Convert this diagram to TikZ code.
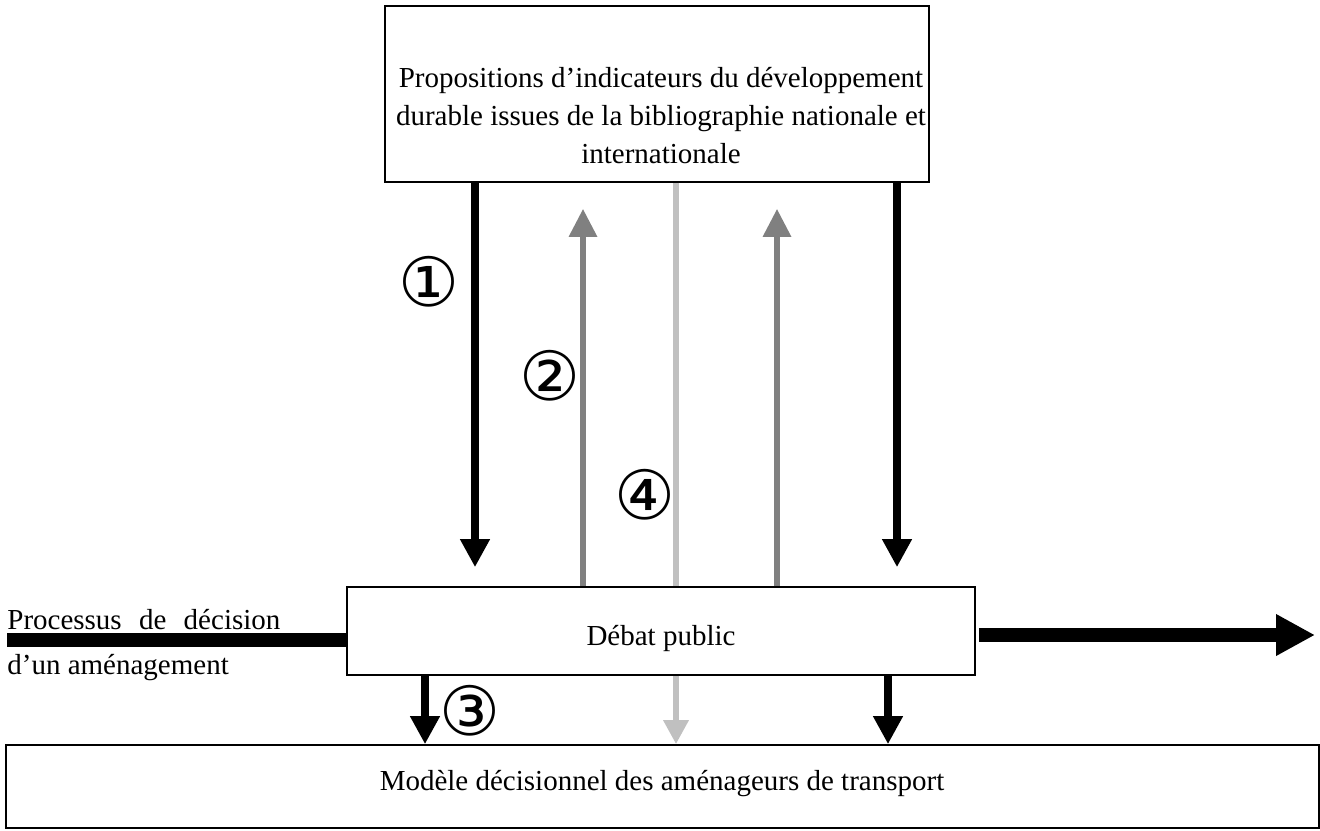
\documentclass[tikz,border=0pt]{standalone}
\usepackage{fontspec}
\setmainfont{Liberation Serif}
\newfontfamily\circfont{DejaVu Sans}
\usetikzlibrary{arrows.meta}
\definecolor{midgray}{HTML}{808080}
\definecolor{lightgray2}{HTML}{C0C0C0}
\begin{document}
\begin{tikzpicture}[x=0.5pt,y=-0.5pt,
  box/.style={draw,line width=0.8pt,inner sep=0pt},
  txt/.style={inner sep=0pt,align=center,font=\fontsize{14.5}{19}\selectfont},
  lbl/.style={inner sep=0pt,font=\fontsize{14.5}{19}\selectfont},
  circ/.style={inner sep=0pt,font=\circfont\fontsize{34}{34}\selectfont},
  blackarr/.style={line width=4pt,-{Triangle[width=14pt,length=14pt]}},
  grayarr/.style={draw=midgray,line width=3pt,-{Triangle[width=13.5pt,length=14pt]}},
  lgline/.style={draw=lightgray2,line width=3pt},
  lgarr/.style={draw=lightgray2,line width=3pt,-{Triangle[width=12pt,length=12pt]}}
]
\useasboundingbox (0,0) rectangle (1320,830);

\node[box,minimum width=272pt,minimum height=88pt] (top) at (657,94) {};
\node[txt] (toptext) at (661,116)
  {Propositions d’indicateurs du développement\\durable issues de la bibliographie nationale et\\internationale};
\node[box,minimum width=314pt,minimum height=44pt] (debat) at (661,631) {};
\node[txt] (debattext) at (661,638) {Débat public};
\node[box,minimum width=656.5pt,minimum height=41.5pt] (model) at (662.5,786.5) {};
\node[txt] (modeltext) at (662,784) {Modèle décisionnel des aménageurs de transport};

\coordinate (xa) at (475,0);
\coordinate (xb) at (583,0);
\coordinate (xc) at (676,0);
\coordinate (xd) at (777,0);
\coordinate (xe) at (897,0);
\coordinate (xf) at (425,0);
\coordinate (xg) at (888,0);

\draw[blackarr,shorten >=9.5pt] (top.south -| xa) -- (debat.north -| xa);
\draw[grayarr,shorten >=13pt] (debat.north -| xb) -- (top.south -| xb);
\draw[lgline] (top.south -| xc) -- (debat.north -| xc);
\draw[grayarr,shorten >=13pt] (debat.north -| xd) -- (top.south -| xd);
\draw[blackarr,shorten >=9.5pt] (top.south -| xe) -- (debat.north -| xe);

\draw[blackarr] (debat.south -| xf) -- (model.north -| xf);
\draw[lgarr] (debat.south -| xc) -- (model.north -| xc);
\draw[blackarr] (debat.south -| xg) -- (model.north -| xg);

\coordinate (lstart) at (7,640);
\draw[line width=7pt] (lstart) -- (debat.west |- lstart);
\coordinate (rend) at (1315,635);
\draw[line width=7pt,-{Triangle[width=19.5pt,length=19.5pt]},shorten <=1.5pt] (debat.east |- rend) -- (rend);

\node[lbl,anchor=west] (p1) at (7,620) {\makebox[136.5pt][s]{Processus de décision}};
\node[lbl,anchor=west] (p2) at (7,668) {d’un aménagement};

\node[circ] (c1) at (429,282) {①};
\node[circ] (c2) at (550,376) {②};
\node[circ] (c3) at (470,711) {③};
\node[circ] (c4) at (645,495) {④};
\end{tikzpicture}
\end{document}
